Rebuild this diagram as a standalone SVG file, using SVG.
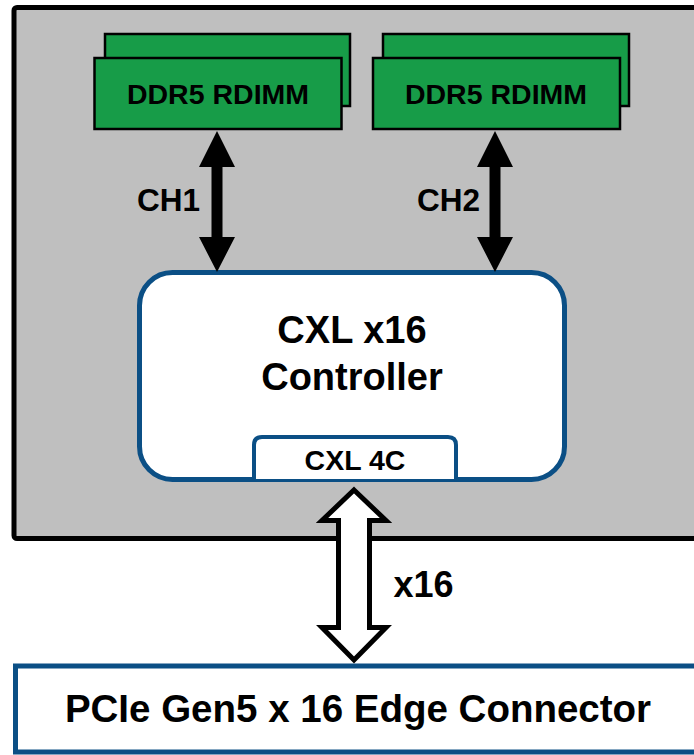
<svg xmlns="http://www.w3.org/2000/svg" width="694" height="755" viewBox="0 0 694 755">
<style>
text{font-family:"Liberation Sans",Arial,sans-serif;font-weight:bold;fill:#000;text-anchor:middle}
.dimm{fill:#179c48;stroke:#000;stroke-width:2.5}
.blk{fill:#000;stroke:none}
.blue{stroke:#0b4f85;fill:#fff}
</style>
<rect x="0" y="0" width="694" height="755" fill="#fff"/>
<g id="board">
<rect x="14" y="7.5" width="700" height="531" rx="3" fill="#bfbfbf" stroke="#000" stroke-width="5"/>
</g>
<g id="dimm1">
<rect class="dimm" x="105" y="34" width="245" height="72"/>
<rect class="dimm" x="94.5" y="58" width="247" height="71"/>
<text x="218" y="104" font-size="28.5">DDR5 RDIMM</text>
</g>
<g id="dimm2">
<rect class="dimm" x="383" y="34" width="246" height="72"/>
<rect class="dimm" x="373" y="58" width="247" height="71"/>
<text x="496" y="104" font-size="28.5">DDR5 RDIMM</text>
</g>
<g id="controller">
<rect class="blue" x="139.5" y="272.5" width="425" height="207" rx="33" stroke-width="5"/>
<text x="352" y="343" font-size="38">CXL x16</text>
<text x="352" y="390" font-size="38">Controller</text>
</g>
<g id="cxl4c">
<path class="blue" d="M254,479 V445 Q254,437 262,437 H448 Q456,437 456,445 V479" stroke-width="4"/>
<text x="355" y="470" font-size="28.5">CXL 4C</text>
</g>
<g id="pcie">
<rect class="blue" x="15.5" y="666" width="700" height="86" stroke-width="5"/>
<text x="358" y="722" font-size="38.5">PCIe Gen5 x 16 Edge Connector</text>
</g>
<g id="connectors">
<polygon class="blk" points="217,131 235,167 222.5,167 222.5,237 235,237 217,272 199,237 211.5,237 211.5,167 199,167"/>
<polygon class="blk" points="495,131 513,167 500.5,167 500.5,237 513,237 495,272 477,237 489.5,237 489.5,167 477,167"/>
<polygon points="354,490 386,520.5 369.5,520.5 369.5,627.5 386,627.5 354,660 322,627.5 338.5,627.5 338.5,520.5 322,520.5" fill="#fff" stroke="#000" stroke-width="5" stroke-miterlimit="10"/>
<text x="168.5" y="211" font-size="31.5">CH1</text>
<text x="448.5" y="211" font-size="31.5">CH2</text>
<text x="423.5" y="597" font-size="36">x16</text>
</g>
</svg>
